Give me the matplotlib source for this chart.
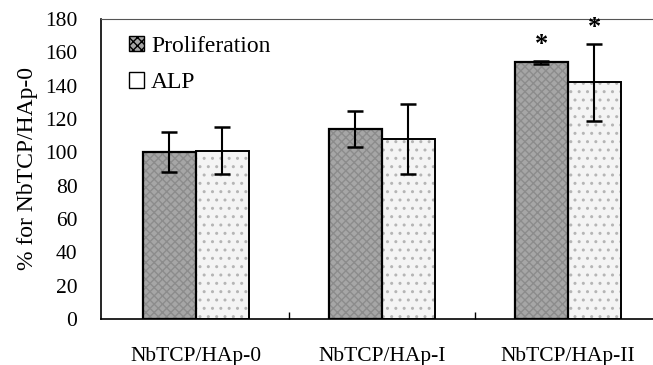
import numpy as np
import matplotlib
matplotlib.use("Agg")
import matplotlib.pyplot as plt
from matplotlib.patches import Patch

groups = ["NbTCP/HAp-0", "NbTCP/HAp-I", "NbTCP/HAp-II"]
prolif = [100, 114, 154]
prolif_err = [12, 11, 1]
alp = [101, 108, 142]
alp_err = [14, 21, 23]
stars = ["", "", "*"]

plt.rcParams['font.family'] = ['Liberation Serif', 'DejaVu Serif']

fig = plt.figure(figsize=(6.53, 3.65), dpi=100)
ax = fig.add_axes([101/653, 1 - 319/365, 552/653, 300/365])

x = np.arange(len(groups))
w = 0.285

# textured fills, then black outlines on top
ax.bar(x - w/2, prolif, w, color='#a6a6a6', hatch='xxxx', edgecolor='#8c8c8c', linewidth=0)
ax.bar(x + w/2, alp, w, color='#f4f4f4', hatch='..', edgecolor='#b5b5b5', linewidth=0)
ax.bar(x - w/2, prolif, w, fill=False, edgecolor='black', linewidth=1.6)
ax.bar(x + w/2, alp, w, fill=False, edgecolor='black', linewidth=1.4)

ax.errorbar(x - w/2, prolif, yerr=prolif_err, fmt='none', ecolor='black',
            elinewidth=1.5, capsize=6, capthick=1.8)
ax.errorbar(x + w/2, alp, yerr=alp_err, fmt='none', ecolor='black',
            elinewidth=1.5, capsize=6, capthick=1.8)

for i, s in enumerate(stars):
    if s:
        ax.text(x[i] - w/2, prolif[i] + prolif_err[i] + 3, s, ha='center', va='bottom',
                fontsize=19, fontweight='bold')
        ax.text(x[i] + w/2, alp[i] + alp_err[i] + 3, s, ha='center', va='bottom',
                fontsize=19, fontweight='bold')

ax.set_xlim(-0.51, 2.457)
ax.set_ylim(0, 180)
ax.set_yticks(range(0, 181, 20))
ax.set_xticks(x)
ax.set_xticklabels(groups, fontsize=15.5)
ax.set_xticks([0.5, 1.5], minor=True)
ax.tick_params(axis='x', which='major', length=0, pad=20)
ax.tick_params(axis='x', which='minor', direction='in', length=5, width=1)
ax.tick_params(axis='y', length=0, pad=17, labelsize=15.5)
ax.set_ylabel("% for NbTCP/HAp-0", fontsize=17, labelpad=5)

ax.spines['right'].set_visible(False)
ax.spines['top'].set_linestyle((0, (2, 1)))
ax.spines['top'].set_color('#555555')
ax.spines['left'].set_linewidth(1.2)
ax.spines['bottom'].set_linewidth(1.2)

handles = [Patch(facecolor='#a6a6a6', edgecolor='black', hatch='xxxx', label='Proliferation'),
           Patch(facecolor='white', edgecolor='black', label='ALP')]
ax.legend(handles=handles, loc='upper left', frameon=False, fontsize=17,
          handlelength=0.65, handleheight=0.65, handletextpad=0.3, labelspacing=0.65,
          borderaxespad=0.3, bbox_to_anchor=(0.02, 1.0))

fig.savefig("out.png", dpi=100)
